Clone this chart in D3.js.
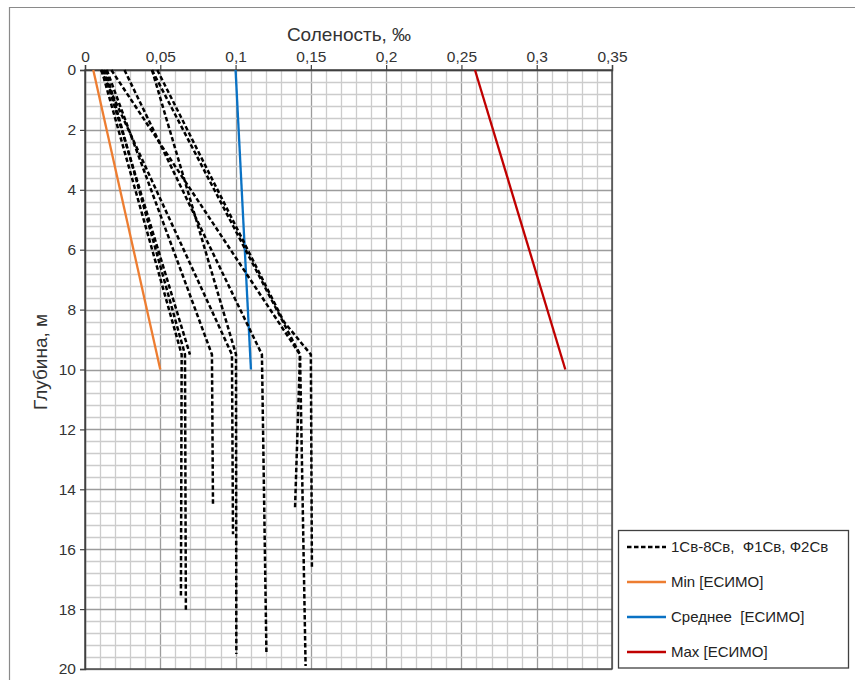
<!DOCTYPE html>
<html><head><meta charset="utf-8">
<script src="https://cdn.jsdelivr.net/npm/d3@7"></script>
<style>
html,body{margin:0;padding:0;background:#fff;}
svg{display:block;font-family:"Liberation Sans",Arial,sans-serif;}
</style></head>
<body>
<svg id="chart" width="855" height="680"></svg>
<script>
// ---- data ----
const xTicks = [0, 0.05, 0.1, 0.15, 0.2, 0.25, 0.3, 0.35];
const xTickLabels = ["0", "0,05", "0,1", "0,15", "0,2", "0,25", "0,3", "0,35"];
const yTicks = [0, 2, 4, 6, 8, 10, 12, 14, 16, 18, 20];
const yTickLabels = ["0", "2", "4", "6", "8", "10", "12", "14", "16", "18", "20"];

// well profiles (depth, m ; salinity, ‰)
const s1Depth = [0, 9.5, 17.6],      s1Val = [0.011, 0.0642, 0.0637];
const s2Depth = [0, 9.5, 18.1],      s2Val = [0.0137, 0.0664, 0.067];
const s3Depth = [0, 9.5],            s3Val = [0.0123, 0.0697];
const s4Depth = [0, 9.5, 14.5],      s4Val = [0.0145, 0.0843, 0.085];
const s5Depth = [0, 9.5, 15.5],      s5Val = [0.0106, 0.0976, 0.0983];
const s6Depth = [0, 9.5, 19.5],      s6Val = [0.0445, 0.1003, 0.1005];
const s7Depth = [0, 9.5, 19.5],      s7Val = [0.0262, 0.1175, 0.1205];
const s8Depth = [0, 9.5, 14.6],      s8Val = [0.0445, 0.1428, 0.1395];
const f1Depth = [0, 9.5, 19.9],      f1Val = [0.0175, 0.1428, 0.1465];
const f2Depth = [0, 8.4, 9.5, 16.6], f2Val = [0.048, 0.132, 0.150, 0.1507];

// ESIMO reference lines
const esimoDepth = [0, 10];
const minVal = [0.0055, 0.05];
const meanVal = [0.1, 0.1102];
const maxVal = [0.259, 0.319];

const legendLabels = ["1Св-8Св,  Ф1Св, Ф2Св", "Min [ЕСИМО]", "Среднее  [ЕСИМО]", "Max [ЕСИМО]"];

// ---- drawing ----
const svg = d3.select("#chart");
const x = d3.scaleLinear().domain([0, 0.35]).range([85, 612]);
const y = d3.scaleLinear().domain([0, 20]).range([70, 669]);

// outer frame
svg.append("path").attr("d", "M9.5,680 V7.5 H855").attr("fill", "none").attr("stroke", "#8a8a8a").attr("stroke-width", 1.2);

// grid
const g = svg.append("g");
const minorX = d3.range(0, 0.3501, 0.01);
const minorY = d3.range(0, 20.001, 0.4);
g.selectAll(".vx").data(minorX).join("line")
  .attr("x1", d => Math.round(x(d)) + 0.5).attr("x2", d => Math.round(x(d)) + 0.5)
  .attr("y1", y(0)).attr("y2", y(20))
  .attr("stroke", (d, i) => i % 5 === 0 ? "#9c9c9c" : "#cccccc").attr("stroke-width", 1.3);
g.selectAll(".hy").data(minorY).join("line")
  .attr("y1", d => Math.round(y(d)) + 0.5).attr("y2", d => Math.round(y(d)) + 0.5)
  .attr("x1", x(0)).attr("x2", x(0.35))
  .attr("stroke", (d, i) => i % 5 === 0 ? "#9c9c9c" : "#cccccc").attr("stroke-width", 1.3);

// plot border
svg.append("rect").attr("x", x(0)).attr("y", y(0)).attr("width", x(0.35) - x(0)).attr("height", y(20) - y(0))
  .attr("fill", "none").attr("stroke", "#404040").attr("stroke-width", 1.4);

// axes
const xAxis = d3.axisTop(x).tickValues(xTicks).tickSize(5).tickPadding(3)
  .tickFormat((d, i) => xTickLabels[i]);
const ax = svg.append("g").attr("transform", `translate(0,${y(0)})`).call(xAxis);
const yAxis = d3.axisLeft(y).tickValues(yTicks).tickSize(5).tickPadding(4)
  .tickFormat((d, i) => yTickLabels[i]);
const ay = svg.append("g").attr("transform", `translate(${x(0)},0)`).call(yAxis);
[ax, ay].forEach(a => {
  a.select(".domain").attr("stroke", "#404040").attr("stroke-width", 1.4);
  a.selectAll(".tick line").attr("stroke", "#404040").attr("stroke-width", 1.2);
  a.selectAll(".tick text").attr("fill", "#333").style("font-size", "15.5px")
    .style("font-family", "'Liberation Sans', Arial, sans-serif");
});

// axis titles
svg.append("text").attr("x", 349).attr("y", 41).attr("text-anchor", "middle")
  .attr("fill", "#333").style("font-size", "19px").text("Соленость, ‰");
svg.append("text").attr("transform", "translate(47,362) rotate(-90)").attr("text-anchor", "middle")
  .attr("fill", "#333").style("font-size", "19px").text("Глубина, м");

// lines
const line = d3.line().x(d => x(d[1])).y(d => y(d[0]));
const zip = (a, b) => a.map((d, i) => [d, b[i]]);
const wells = [
  zip(s1Depth, s1Val), zip(s2Depth, s2Val), zip(s3Depth, s3Val), zip(s4Depth, s4Val),
  zip(s5Depth, s5Val), zip(s6Depth, s6Val), zip(s7Depth, s7Val), zip(s8Depth, s8Val),
  zip(f1Depth, f1Val), zip(f2Depth, f2Val)
];
const refs = [
  { data: zip(esimoDepth, minVal), color: "#ED7D31" },
  { data: zip(esimoDepth, meanVal), color: "#0A72C4" },
  { data: zip(esimoDepth, maxVal), color: "#C00000" }
];
svg.append("g").selectAll("path").data(refs).join("path")
  .attr("d", d => line(d.data)).attr("fill", "none")
  .attr("stroke", d => d.color).attr("stroke-width", 2.3);
svg.append("g").selectAll("path").data(wells).join("path")
  .attr("d", d => line(d)).attr("fill", "none")
  .attr("stroke", "#000").attr("stroke-width", 2.5).attr("stroke-dasharray", "4.5,2.5");

// legend
const leg = svg.append("g");
leg.append("rect").attr("x", 618.5).attr("y", 530.5).attr("width", 230).attr("height", 137.5)
  .attr("fill", "#fff").attr("stroke", "#404040").attr("stroke-width", 1.3);
const legStyles = [
  { color: "#000", dash: "4.5,2.5" },
  { color: "#ED7D31", dash: null },
  { color: "#0A72C4", dash: null },
  { color: "#C00000", dash: null }
];
legendLabels.forEach((t, i) => {
  const yy = 547 + i * 35;
  leg.append("line").attr("x1", 627).attr("x2", 666).attr("y1", yy).attr("y2", yy)
    .attr("stroke", legStyles[i].color).attr("stroke-width", 2.3)
    .attr("stroke-dasharray", legStyles[i].dash);
  leg.append("text").attr("x", 671).attr("y", yy + 5).attr("fill", "#222")
    .style("font-size", "15px").style("white-space", "pre").text(t);
});
</script>
</body></html>
